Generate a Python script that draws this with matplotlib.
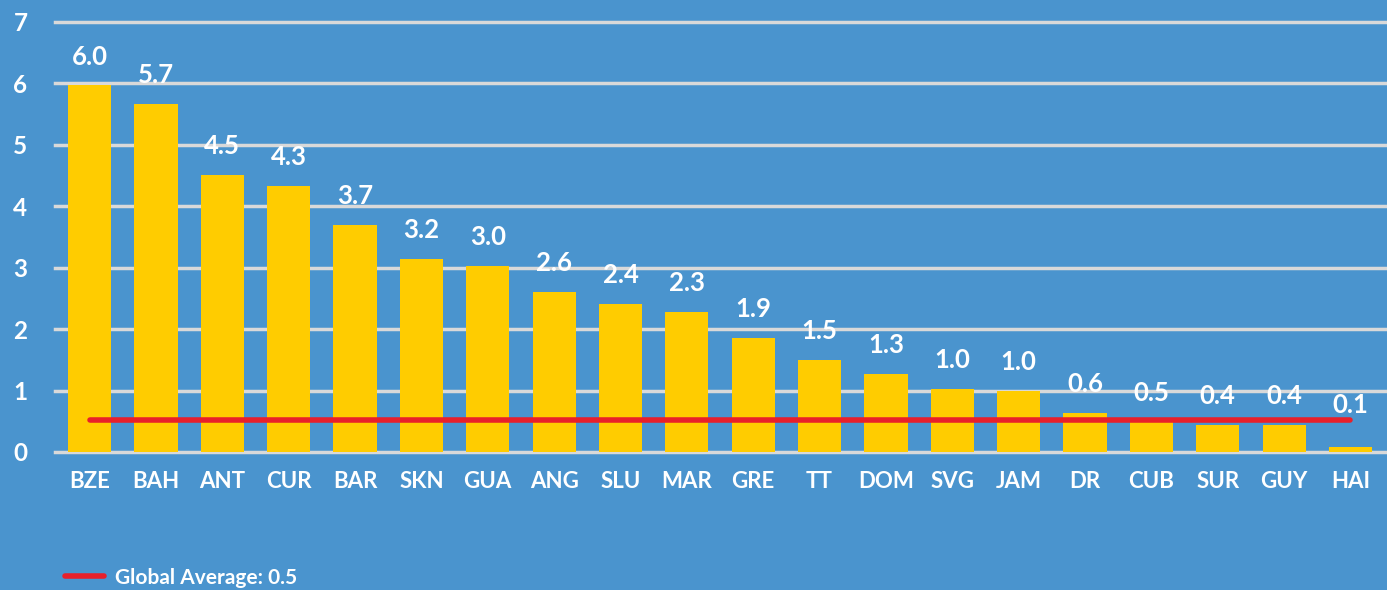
import matplotlib.pyplot as plt

countries = ['BZE', 'BAH', 'ANT', 'CUR', 'BAR', 'SKN', 'GUA', 'ANG', 'SLU', 'MAR',
             'GRE', 'TT', 'DOM', 'SVG', 'JAM', 'DR', 'CUB', 'SUR', 'GUY', 'HAI']
values = [5.97, 5.67, 4.51, 4.33, 3.70, 3.14, 3.03, 2.61, 2.41, 2.28,
          1.86, 1.50, 1.27, 1.03, 0.99, 0.64, 0.49, 0.44, 0.44, 0.08]
labels = ['6.0', '5.7', '4.5', '4.3', '3.7', '3.2', '3.0', '2.6', '2.4', '2.3',
          '1.9', '1.5', '1.3', '1.0', '1.0', '0.6', '0.5', '0.4', '0.4', '0.1']
global_avg = 0.52
avg_label = 'Global Average: 0.5'

bg = '#4A94CE'
plt.rcParams['font.family'] = ['Lato', 'DejaVu Sans']
plt.rcParams['font.weight'] = 'bold'

fig = plt.figure(figsize=(13.87, 5.9), dpi=100, facecolor=bg)
ax = fig.add_axes([0.0397, 0.234, 0.9603, 0.7288], facecolor=bg)

x = range(len(countries))
ax.bar(x, values, width=0.65, color='#FFCC00', zorder=2)
ax.plot([0, len(countries) - 1], [global_avg, global_avg], color='#E8202A',
        lw=4, solid_capstyle='round', zorder=3, label=avg_label)

for i, (v, lab) in enumerate(zip(values, labels)):
    ax.annotate(lab, (i, max(v, 0.3)), xytext=(0, 12), textcoords='offset points',
                ha='center', va='bottom', color='white', fontsize=18.5)

ax.set_xlim(-0.52, len(countries) - 0.45)
ax.set_ylim(0, 7)
ax.set_yticks(range(8))
ax.yaxis.grid(True, color='#D9D9D9', lw=2.5, zorder=1)
for gl in ax.get_ygridlines():
    gl.set_clip_on(False)
ax.set_xticks(list(x))
ax.set_xticklabels(countries)
ax.tick_params(length=0, colors='white', labelsize=16)
ax.tick_params(axis='x', pad=14)
ax.tick_params(axis='y', pad=30, labelsize=17.5)
for lab in ax.get_yticklabels():
    lab.set_horizontalalignment('left')
for s in ax.spines.values():
    s.set_visible(False)

fig.legend(loc='lower left', bbox_to_anchor=(0.033, -0.028), frameon=False,
           labelcolor='white', fontsize=15, handlelength=1.9, handletextpad=0.5)

fig.savefig('out.png', facecolor=bg)
